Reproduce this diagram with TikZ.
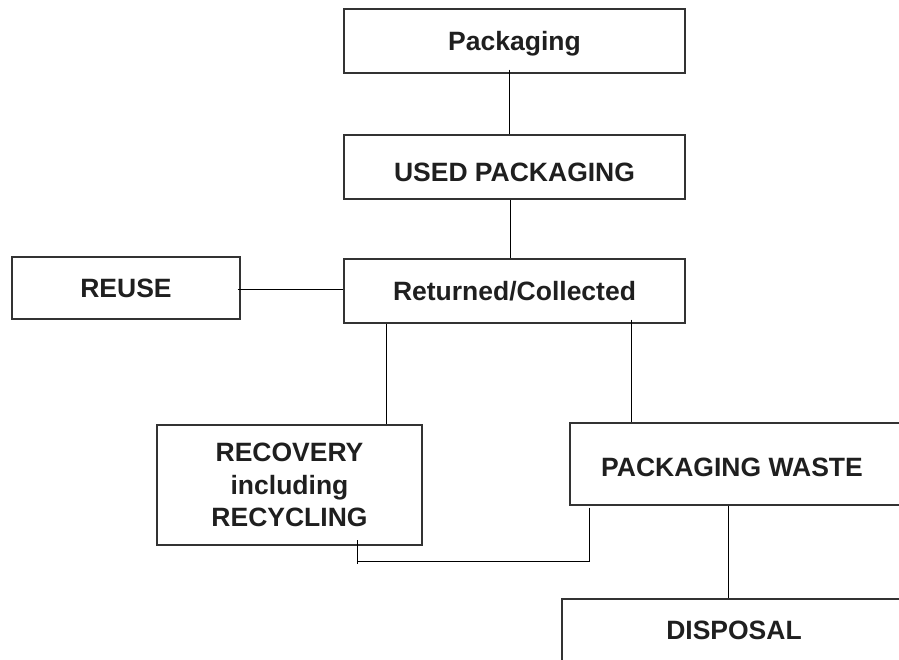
\documentclass[tikz,border=0pt]{standalone}
\usepackage{fontspec}
\setmainfont{Liberation Sans}
\begin{document}
\begin{tikzpicture}[x=1pt,y=-1pt,
  box/.style={draw=black!80, line width=1.3pt, rectangle, inner sep=0pt,
    font=\bfseries\fontsize{26.5}{32.5}\selectfont, text=black!88, align=center},
  lbl/.style={font=\bfseries\fontsize{26.5}{32.5}\selectfont, text=black!88, inner sep=0pt},
  conn/.style={draw=black, line width=1pt}]
\useasboundingbox (0,0) rectangle (899,660);
\clip (0,0) rectangle (899,660);
\node[box, minimum width=341pt, minimum height=64pt, text depth=0pt] (pack) at (514.5,41) {Packaging};
\node[box, minimum width=341pt, minimum height=64pt, text height=29pt, text depth=0pt] (used) at (514.5,167) {USED PACKAGING};
\node[box, minimum width=341pt, minimum height=64pt] (ret) at (514.5,291) {Returned/Collected};
\node[box, minimum width=228pt, minimum height=62pt] (reuse) at (126,288) {REUSE};
\node[box, minimum width=265pt, minimum height=120pt] (recov) at (289.5,485) {RECOVERY\\including\\RECYCLING};
\node[box, minimum width=340pt, minimum height=82pt,
  label={[lbl, name=wastetext, xshift=-8pt, yshift=-3pt]center:PACKAGING WASTE}] (waste) at (740,464) {};
\node[box, minimum width=344pt, minimum height=82pt,
  label={[lbl, name=disptext, yshift=10pt]center:DISPOSAL}] (disp) at (734,640) {};
% connectors
\draw[conn] ([xshift=-5pt,yshift=4pt]pack.south) -- ([xshift=-5pt]used.north);
\draw[conn] ([xshift=-4.5pt]used.south) -- ([xshift=-4.5pt]ret.north);
\draw[conn] ([xshift=-3pt,yshift=-1pt]reuse.east) -- ([yshift=-1pt]reuse.east -| ret.west);
\draw[conn] ([xshift=-128pt]ret.south) -- ([xshift=-128pt]ret.south |- recov.north);
\draw[conn] ([xshift=116.5pt,yshift=4pt]ret.south) -- ([xshift=116.5pt]ret.south |- waste.north);
\draw[conn] ([xshift=-11.5pt]waste.south) -- ([xshift=-11.5pt]waste.south |- disp.north);
\coordinate (bend) at ([xshift=67.5pt,yshift=-16pt]recov.south);
\draw[conn] ([xshift=20pt,yshift=-2pt]waste.south west) |- (bend) -- ([xshift=67.5pt,yshift=6pt]recov.south);
\draw[conn] (bend) -- ++(0,2);
\end{tikzpicture}
\end{document}
